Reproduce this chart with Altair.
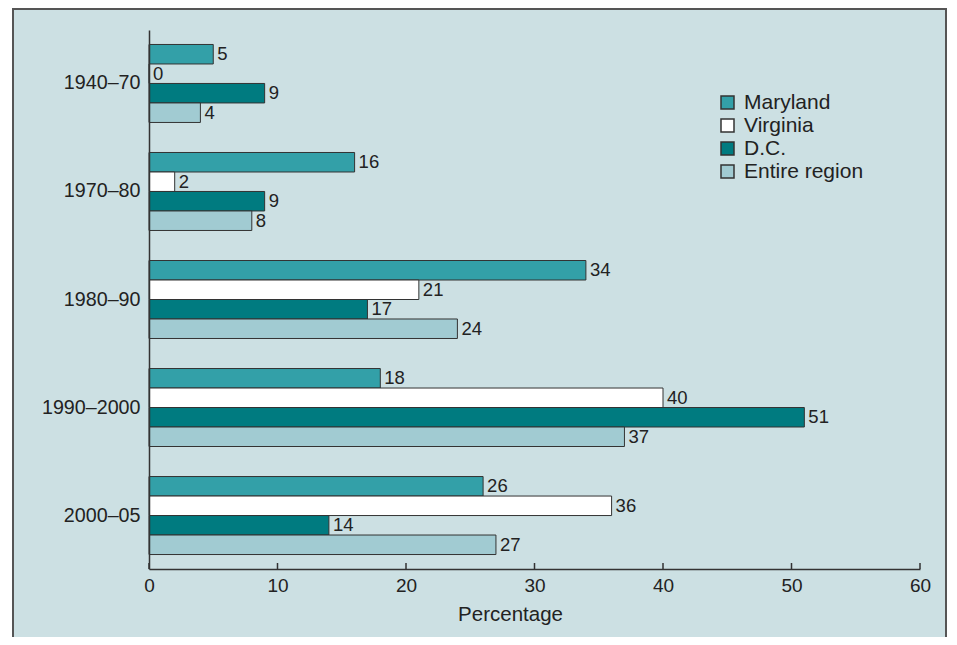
import altair as alt
import pandas as pd

periods = ["1940–70", "1970–80", "1980–90", "1990–2000", "2000–05"]
series = ["Maryland", "Virginia", "D.C.", "Entire region"]
maryland = [5, 16, 34, 18, 26]
virginia = [0, 2, 21, 40, 36]
dc = [9, 9, 17, 51, 14]
entire = [4, 8, 24, 37, 27]
x_ticks = [0, 10, 20, 30, 40, 50, 60]
colors = ["#33a0a8", "#ffffff", "#007b80", "#a1cbd2"]

rows = []
for s, vals in zip(series, [maryland, virginia, dc, entire]):
    for p, v in zip(periods, vals):
        rows.append({"period": p, "series": s, "value": v})
df = pd.DataFrame(rows)

W, H = 771, 539
FONT = "Liberation Sans"
INK = "#222222"

y_enc = alt.Y("period:N", sort=periods, title=None,
              scale=alt.Scale(paddingInner=0.278, paddingOuter=0.134),
              axis=alt.Axis(ticks=False, domainColor="#333333", domainWidth=1.5,
                            labelFontSize=19.7, labelColor=INK, labelPadding=9,
                            labelFont=FONT, zindex=1))
yoff = alt.YOffset("series:N", sort=series,
                   scale=alt.Scale(paddingInner=0, paddingOuter=0))
x_enc = alt.X("value:Q", title="Percentage",
              scale=alt.Scale(domain=[0, 60], nice=False),
              axis=alt.Axis(values=x_ticks, grid=False, tickSize=0, labelFlush=False,
                            domainColor="#333333", domainWidth=1.5,
                            labelFontSize=19, labelColor=INK, labelPadding=7,
                            labelFont=FONT, titleFont=FONT, titleFontSize=20.5,
                            titleFontWeight="normal", titleColor=INK,
                            titlePadding=9, titleX=361, titleAlign="center",
                            zindex=1))

panel = alt.Chart(alt.Data(values=[{"a": 1}])).mark_rect(
    fill="#cce0e3", stroke="#555555", strokeWidth=2
).encode(x=alt.value(-136), x2=alt.value(797), y=alt.value(-21), y2=alt.value(720))

bars = alt.Chart(df).mark_bar(stroke="#333333", strokeWidth=1).encode(
    x=x_enc,
    y=y_enc,
    yOffset=yoff,
    color=alt.Color("series:N", sort=series,
                    scale=alt.Scale(domain=series, range=colors),
                    legend=alt.Legend(title=None, orient="none", legendX=568, legendY=62,
                                      symbolType="square", symbolSize=169,
                                      symbolStrokeColor="#333333", symbolStrokeWidth=1.5,
                                      symbolOpacity=1, labelFontSize=21,
                                      labelColor=INK, labelFont=FONT,
                                      labelOffset=6, rowPadding=1, padding=0,
                                      zindex=1)),
)

labels = alt.Chart(df).mark_text(align="left", baseline="middle", dx=4,
                                 fontSize=18.5, color=INK, font=FONT).encode(
    x=alt.X("value:Q"),
    y=alt.Y("period:N", sort=periods),
    yOffset=yoff,
    text=alt.Text("value:Q"),
)

ticks = alt.Chart(alt.Data(values=[{"t": v} for v in x_ticks])).mark_rule(
    color="#333333", strokeWidth=1.5
).encode(x=alt.X("t:Q"), y=alt.value(H), y2=alt.value(H - 6))

chart = alt.layer(panel, bars, labels, ticks).properties(
    width=W, height=H,
    autosize=alt.AutoSizeParams(type="none"),
    padding={"left": 141, "top": 22, "right": 29, "bottom": 68},
).configure(background="white").configure_view(strokeWidth=0)

chart.save("out.html", embed_options={"renderer": "svg", "actions": False})
